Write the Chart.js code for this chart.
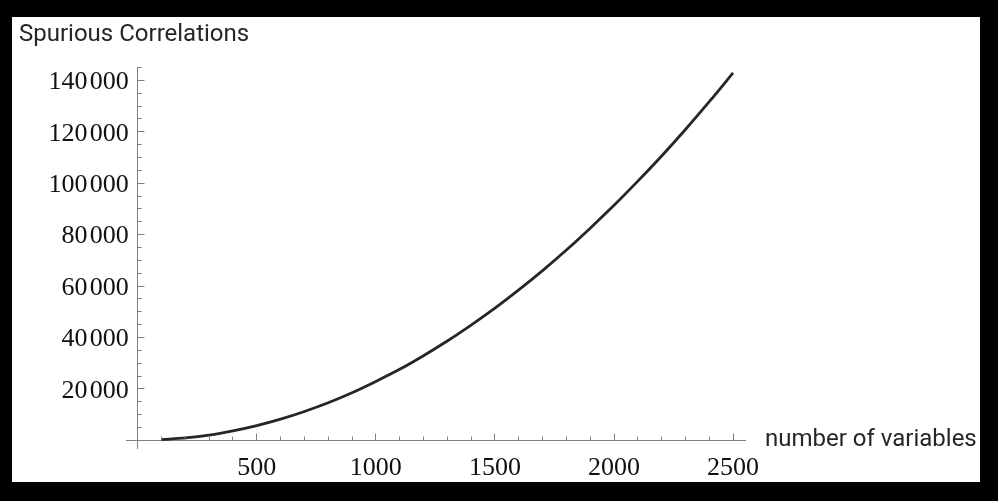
<!DOCTYPE html>
<html>
<head>
<meta charset="utf-8">
<script src="https://cdn.jsdelivr.net/npm/chart.js@4.4.1/dist/chart.umd.min.js"></script>
<style>
  html, body { margin: 0; padding: 0; background: #000; }
  #wrap { position: relative; width: 998px; height: 501px; overflow: hidden; }
  #panel { position: absolute; left: 12px; top: 17px; width: 968px; height: 465px; background: #fff; }
  #chart { position: absolute; left: 0; top: 0; }
  .lbl { position: absolute; font-family: Roboto, sans-serif; font-size: 24px; line-height: 24px; color: #262626; white-space: nowrap; }
</style>
</head>
<body>
<div id="wrap">
  <div id="panel"></div>
  <canvas id="chart" width="998" height="501"></canvas>
  <div class="lbl" style="left:19px; top:21px;">Spurious Correlations</div>
  <div class="lbl" style="left:765px; top:426px;">number of variables</div>
</div>
<script>
// values
const variables = [100, 200, 300, 400, 500, 600, 700, 800, 900, 1000, 1100, 1200, 1300,
                   1400, 1500, 1600, 1700, 1800, 1900, 2000, 2100, 2200, 2300, 2400, 2500];
const correlations = [250, 900, 2000, 3650, 5700, 8200, 11200, 14600, 18500, 22900, 27600, 32900, 38600,
                      44800, 51400, 58500, 66000, 74000, 82500, 91400, 100800, 110600, 120900, 131700, 142900];

const xTickValues = [500, 1000, 1500, 2000, 2500];
const xTickLabels = ["500", "1000", "1500", "2000", "2500"];
const yTickValues = [20000, 40000, 60000, 80000, 100000, 120000, 140000];
const yTickLabels = ["20\u200a000", "40\u200a000", "60\u200a000", "80\u200a000",
                     "100\u200a000", "120\u200a000", "140\u200a000"];

const axisColor = "#808080";
const tickFont = { family: "'Liberation Serif', serif", size: 26 };

function align(p) {
  return Math.round(p - 0.5) + 0.5;
}

// Mathematica-style ticks pointing inwards, minor every 100 / 5000
const inwardTicks = {
  id: "inwardTicks",
  beforeDraw(chart) {
    // y labels sit 9px left of the axis line
    const y = chart.scales.y;
    if (!y._shifted) {
      const orig = y.drawLabels;
      y.drawLabels = function (area) {
        const ctx = this.ctx;
        ctx.save();
        ctx.translate(-9, 2);
        orig.call(this, area);
        ctx.restore();
      };
      y._shifted = true;
    }
  },
  afterDraw(chart) {
    const { ctx, scales: { x, y } } = chart;
    const xAxisY = align(y.getPixelForValue(0));
    const yAxisX = align(x.getPixelForValue(0));
    ctx.save();
    ctx.strokeStyle = axisColor;
    ctx.lineWidth = 1;
    ctx.beginPath();
    for (let v = 100; v <= 2500; v += 100) {
      const px = align(x.getPixelForValue(v));
      const len = v % 500 === 0 ? 7 : 4;
      ctx.moveTo(px, xAxisY);
      ctx.lineTo(px, xAxisY - len);
    }
    for (let v = 5000; v <= 145000; v += 5000) {
      const py = align(y.getPixelForValue(v));
      const len = v % 20000 === 0 ? 7 : 4;
      ctx.moveTo(yAxisX, py);
      ctx.lineTo(yAxisX + len, py);
    }
    ctx.stroke();
    ctx.restore();
  }
};

new Chart(document.getElementById("chart"), {
  type: "line",
  data: {
    datasets: [{
      data: variables.map((v, i) => ({ x: v, y: correlations[i] })),
      borderColor: "#262626",
      borderWidth: 2.8,
      pointRadius: 0,
      cubicInterpolationMode: "monotone",
      fill: false
    }]
  },
  options: {
    responsive: false,
    animation: false,
    devicePixelRatio: 1,
    layout: { padding: { left: 126, right: 253, top: 67, bottom: 53 } },
    plugins: { legend: { display: false }, tooltip: { enabled: false } },
    scales: {
      x: {
        type: "linear",
        min: -49,
        max: 2550,
        position: { y: 0 },
        grid: { display: false, drawTicks: false },
        border: { display: true, color: axisColor, width: 1 },
        afterBuildTicks: s => { s.ticks = xTickValues.map(v => ({ value: v })); },
        ticks: {
          autoSkip: false,
          maxRotation: 0,
          padding: 12,
          color: "#111",
          font: tickFont,
          callback: (v, i) => xTickLabels[i]
        }
      },
      y: {
        type: "linear",
        min: -3000,
        max: 145200,
        position: { x: 0 },
        grid: { display: false, drawTicks: false },
        border: { display: true, color: axisColor, width: 1 },
        afterBuildTicks: s => { s.ticks = yTickValues.map(v => ({ value: v })); },
        ticks: {
          autoSkip: false,
          padding: 0,
          color: "#111",
          font: tickFont,
          callback: (v, i) => yTickLabels[i]
        }
      }
    }
  },
  plugins: [inwardTicks]
});
</script>
</body>
</html>
